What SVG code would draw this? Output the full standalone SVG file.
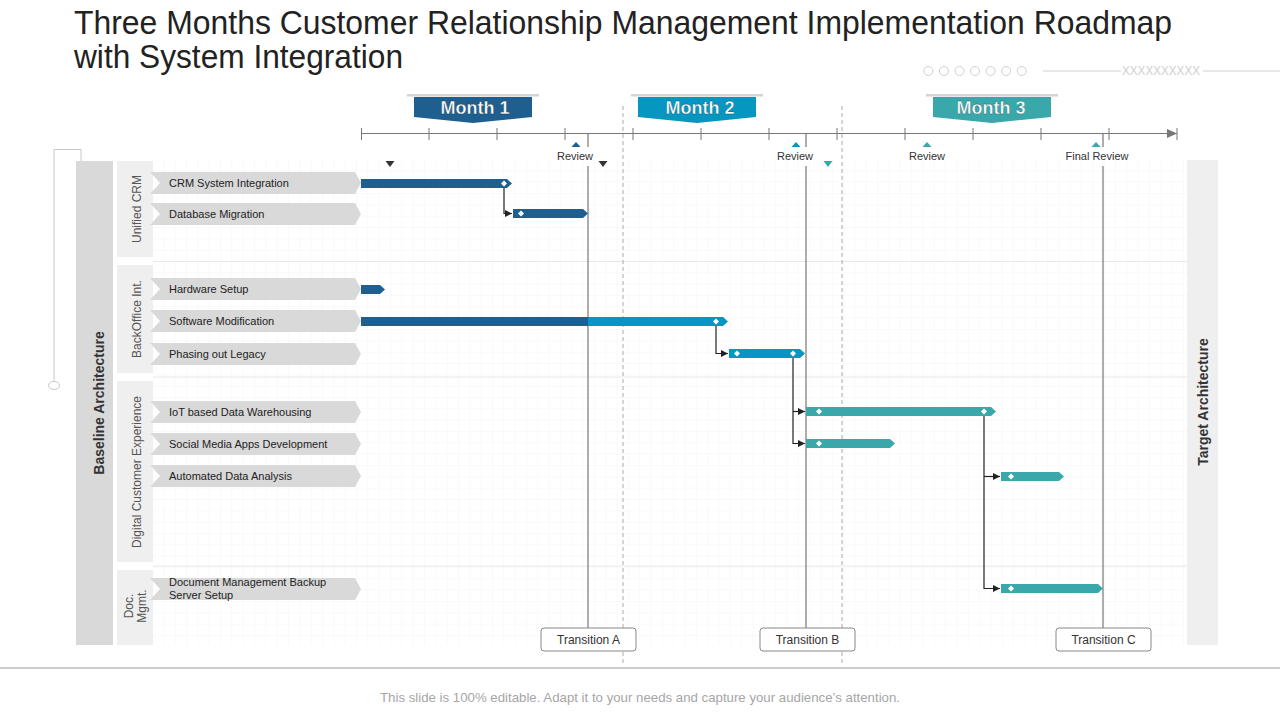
<svg xmlns="http://www.w3.org/2000/svg" width="1280" height="720" viewBox="0 0 1280 720">
<defs>
<style>
.title{font-family:"Liberation Sans",Arial,sans-serif;font-size:33px;fill:#222}
.month{font-family:"Liberation Sans",Arial,sans-serif;font-size:18px;font-weight:bold;fill:#fff}
.rev{font-family:"Liberation Sans",Arial,sans-serif;font-size:11px;fill:#333;text-anchor:middle}
.task{font-family:"Liberation Sans",Arial,sans-serif;font-size:11px;fill:#222}
.cat{font-family:"Liberation Sans",Arial,sans-serif;font-size:12px;fill:#555;text-anchor:middle}
.side{font-family:"Liberation Sans",Arial,sans-serif;font-size:14px;font-weight:bold;fill:#333;text-anchor:middle}
.trans{font-family:"Liberation Sans",Arial,sans-serif;font-size:12px;fill:#333;text-anchor:middle}
.lbl{fill:#d9d9d9}
.catbg{fill:#efefef}
.dia{fill:#fff}
.conn{fill:none;stroke:#222;stroke-width:1.2}
.tline{stroke:#777;stroke-width:1.2}
.dash{stroke:#aaa;stroke-width:1;stroke-dasharray:4 3}
.tbox{fill:#fff;stroke:#888;stroke-width:1}
.c1{fill:#1f5f8f}
.c2{fill:#0796bf}
.c3{fill:#3aa7ab}
</style>
<pattern id="grid" x="153" y="160" width="11.33" height="11.33" patternUnits="userSpaceOnUse">
<path d="M11.33 0V11.33M0 11.33H11.33" fill="none" stroke="#efefef" stroke-width="0.8"/>
</pattern>
<marker id="arr" markerWidth="8" markerHeight="8" refX="7" refY="4" orient="auto" markerUnits="userSpaceOnUse">
<path d="M0 0.5L7 4L0 7.5Z" fill="#222"/>
</marker>
<marker id="axarr" markerWidth="12" markerHeight="10" refX="10" refY="5" orient="auto" markerUnits="userSpaceOnUse">
<path d="M0 0.5L10 5L0 9.5Z" fill="#777"/>
</marker>
</defs>

<rect width="1280" height="720" fill="#fff"/>

<g id="title">
<text class="title" x="74" y="34" textLength="1098" lengthAdjust="spacingAndGlyphs">Three Months Customer Relationship Management Implementation Roadmap</text>
<text class="title" x="74" y="68" textLength="329" lengthAdjust="spacingAndGlyphs">with System Integration</text>
</g>

<g id="decoration" fill="none" stroke="#d0d0d0" stroke-width="1">
<circle cx="928.3" cy="71" r="4.5"/><circle cx="943.9" cy="71" r="4.5"/><circle cx="959.5" cy="71" r="4.5"/><circle cx="975" cy="71" r="4.5"/><circle cx="990.6" cy="71" r="4.5"/><circle cx="1006.2" cy="71" r="4.5"/><circle cx="1021.7" cy="71" r="4.5"/>
<line x1="1043" y1="71" x2="1121" y2="71"/>
<line x1="1203" y1="71" x2="1280" y2="71"/>
<text x="1161" y="75" stroke="none" fill="#cfcfcf" font-family="Liberation Sans, Arial, sans-serif" font-size="12" text-anchor="middle" textLength="78" lengthAdjust="spacingAndGlyphs">XXXXXXXXXX</text>
</g>

<g id="grid-area">
<rect x="153" y="160" width="1034" height="485" fill="url(#grid)"/>
<line x1="153" y1="261.5" x2="1187" y2="261.5" stroke="#e8e8e8"/>
<line x1="153" y1="377" x2="1187" y2="377" stroke="#e8e8e8"/>
<line x1="153" y1="566" x2="1187" y2="566" stroke="#e8e8e8"/>
</g>

<g id="left-bracket" fill="none" stroke="#c8c8c8" stroke-width="1">
<path d="M81 161V149.5H54V381"/>
<ellipse cx="54" cy="385.5" rx="5.5" ry="4"/>
</g>

<g id="baseline-architecture">
<rect x="76" y="161" width="37" height="484" fill="#d9d9d9"/>
<text class="side" transform="translate(104 403) rotate(-90)">Baseline Architecture</text>
</g>

<g id="target-architecture">
<rect x="1187" y="160" width="31" height="485" fill="#efefef"/>
<text class="side" transform="translate(1208 402) rotate(-90)">Target Architecture</text>
</g>

<g id="cat-unified-crm">
<rect class="catbg" x="117" y="161" width="36" height="96"/>
<text class="cat" transform="translate(141 209) rotate(-90)">Unified CRM</text>
</g>
<g id="cat-backoffice">
<rect class="catbg" x="117" y="265" width="36" height="108"/>
<text class="cat" transform="translate(141 319) rotate(-90)">BackOffice Int.</text>
</g>
<g id="cat-digital">
<rect class="catbg" x="117" y="381" width="36" height="181"/>
<text class="cat" transform="translate(141 472) rotate(-90)">Digital Customer Experience</text>
</g>
<g id="cat-doc">
<rect class="catbg" x="117" y="570" width="36" height="75"/>
<text class="cat" transform="translate(133 606) rotate(-90)">Doc.</text>
<text class="cat" transform="translate(146 606) rotate(-90)">Mgmt.</text>
</g>

<g id="dashed-dividers">
<line class="dash" x1="623" y1="106" x2="623" y2="666"/>
<line class="dash" x1="842" y1="106" x2="842" y2="666"/>
</g>

<g id="months">
<g id="month1">
<rect x="407" y="94" width="132" height="2.5" fill="#d4d4d4"/>
<polygon class="c1" points="414,97 532,97 532,117 473,123 414,117"/>
<text class="month" x="475" y="114" text-anchor="middle" stroke="#0e3350" stroke-width="0.3">Month 1</text>
</g>
<g id="month2">
<rect x="631" y="94" width="132" height="2.5" fill="#d4d4d4"/>
<polygon class="c2" points="638,97 756,97 756,117 697,123 638,117"/>
<text class="month" x="700" y="114" text-anchor="middle" stroke="#05506a" stroke-width="0.3">Month 2</text>
</g>
<g id="month3">
<rect x="926" y="94" width="132" height="2.5" fill="#d4d4d4"/>
<polygon class="c3" points="933,97 1051,97 1051,117 992,123 933,117"/>
<text class="month" x="991" y="114" text-anchor="middle" stroke="#1d5c5e" stroke-width="0.3">Month 3</text>
</g>
</g>

<g id="axis" stroke="#777" stroke-width="1.2">
<line x1="361" y1="133.5" x2="1177" y2="133.5" marker-end="url(#axarr)"/>
<path d="M361.5 128V140M429 128V140M497 128V140M565 128V140M633 128V140M701 128V140M769 128V140M837 128V140M905 128V140M973 128V140M1041 128V140M1109 128V140M1177 128V140" stroke-width="1"/>
</g>

<g id="reviews">
<polygon points="571.5,147 580.5,147 576,142" fill="#1f5f8f"/>
<text class="rev" x="575" y="160">Review</text>
<polygon points="791.5,147 800.5,147 796,142" fill="#0796bf"/>
<text class="rev" x="795" y="160">Review</text>
<polygon points="922.5,147 931.5,147 927,142" fill="#3aa7ab"/>
<text class="rev" x="927" y="160">Review</text>
<polygon points="1091.5,147 1100.5,147 1096,142" fill="#3aa7ab"/>
<text class="rev" x="1097" y="160">Final Review</text>
<polygon points="385.5,161 394.5,161 390,167" fill="#333"/>
<polygon points="598.5,161 607.5,161 603,167" fill="#333"/>
<polygon points="823.5,161 832.5,161 828,167" fill="#3aa7ab"/>
</g>

<g id="transition-lines">
<path class="tline" d="M588 134V147M588 166V628"/>
<path class="tline" d="M806 134V147M806 166V628"/>
<path class="tline" d="M1103 134V147M1103 166V628"/>
</g>

<g id="task-labels">
<g id="label-crm"><polygon class="lbl" points="150,172 355,172 361,183 355,194 150,194 160,183"/><text class="task" x="169" y="187">CRM  System Integration</text></g>
<g id="label-db"><polygon class="lbl" points="150,203 355,203 361,214 355,225 150,225 160,214"/><text class="task" x="169" y="218">Database Migration</text></g>
<g id="label-hw"><polygon class="lbl" points="150,278 355,278 361,289 355,300 150,300 160,289"/><text class="task" x="169" y="293">Hardware Setup</text></g>
<g id="label-sw"><polygon class="lbl" points="150,310 355,310 361,321 355,332 150,332 160,321"/><text class="task" x="169" y="325">Software Modification</text></g>
<g id="label-legacy"><polygon class="lbl" points="150,343 355,343 361,354 355,365 150,365 160,354"/><text class="task" x="169" y="358">Phasing out Legacy</text></g>
<g id="label-iot"><polygon class="lbl" points="150,401 355,401 361,412 355,423 150,423 160,412"/><text class="task" x="169" y="416">IoT based Data Warehousing</text></g>
<g id="label-social"><polygon class="lbl" points="150,433 355,433 361,444 355,455 150,455 160,444"/><text class="task" x="169" y="448">Social Media  Apps Development</text></g>
<g id="label-auto"><polygon class="lbl" points="150,465 355,465 361,476 355,487 150,487 160,476"/><text class="task" x="169" y="480">Automated Data  Analysis</text></g>
<g id="label-doc"><polygon class="lbl" points="150,578 355,578 361,589 355,600 150,600 160,589"/><text class="task" x="169" y="586">Document  Management  Backup</text><text class="task" x="169" y="599">Server Setup</text></g>
</g>

<g id="connectors">
<path class="conn" d="M504 188V213.5H512" marker-end="url(#arr)"/>
<path class="conn" d="M716 326V353.5H728" marker-end="url(#arr)"/>
<path class="conn" d="M793 358V443.5H805" marker-end="url(#arr)"/>
<path class="conn" d="M793 411.5H805" marker-end="url(#arr)"/>
<path class="conn" d="M984 416V588.5H1000" marker-end="url(#arr)"/>
<path class="conn" d="M984 476.5H1000" marker-end="url(#arr)"/>
</g>

<g id="bars">
<g id="bar-crm"><polygon class="c1" points="361,179 507,179 512,183.5 507,188 361,188"/><path class="dia" d="M504 180.5L507 183.5L504 186.5L501 183.5Z"/></g>
<g id="bar-db"><polygon class="c1" points="513,209 583,209 588,213.5 583,218 513,218"/><path class="dia" d="M521 210.5L524 213.5L521 216.5L518 213.5Z"/></g>
<g id="bar-hw"><polygon class="c1" points="361,285 380,285 385,289.5 380,294 361,294"/></g>
<g id="bar-sw"><rect class="c1" x="361" y="317" width="227" height="9"/><polygon class="c2" points="588,317 723,317 728,321.5 723,326 588,326"/><path class="dia" d="M716 318.5L719 321.5L716 324.5L713 321.5Z"/></g>
<g id="bar-legacy"><polygon class="c2" points="729,349 800,349 805,353.5 800,358 729,358"/><path class="dia" d="M737 350.5L740 353.5L737 356.5L734 353.5Z"/><path class="dia" d="M793 350.5L796 353.5L793 356.5L790 353.5Z"/></g>
<g id="bar-iot"><polygon class="c3" points="806,407 991,407 996,411.5 991,416 806,416"/><path class="dia" d="M819 408.5L822 411.5L819 414.5L816 411.5Z"/><path class="dia" d="M984 408.5L987 411.5L984 414.5L981 411.5Z"/></g>
<g id="bar-social"><polygon class="c3" points="806,439 890,439 895,443.5 890,448 806,448"/><path class="dia" d="M819 440.5L822 443.5L819 446.5L816 443.5Z"/></g>
<g id="bar-auto"><polygon class="c3" points="1001,472 1059,472 1064,476.5 1059,481 1001,481"/><path class="dia" d="M1011 473.5L1014 476.5L1011 479.5L1008 476.5Z"/></g>
<g id="bar-doc"><polygon class="c3" points="1001,584 1098,584 1103,588.5 1098,593 1001,593"/><path class="dia" d="M1011 585.5L1014 588.5L1011 591.5L1008 588.5Z"/></g>
</g>

<g id="transitions">
<g id="transition-a"><rect class="tbox" x="541" y="628" width="95" height="23" rx="3"/><text class="trans" x="588.5" y="644">Transition A</text></g>
<g id="transition-b"><rect class="tbox" x="760" y="628" width="95" height="23" rx="3"/><text class="trans" x="807.5" y="644">Transition B</text></g>
<g id="transition-c"><rect class="tbox" x="1056" y="628" width="95" height="23" rx="3"/><text class="trans" x="1103.5" y="644">Transition C</text></g>
</g>

<g id="footer">
<line x1="0" y1="668" x2="1280" y2="668" stroke="#999" stroke-width="1"/>
<text x="640" y="702" text-anchor="middle" font-family="Liberation Sans, Arial, sans-serif" font-size="13" fill="#a6a6a6" textLength="520" lengthAdjust="spacingAndGlyphs">This slide is 100% editable. Adapt it to your needs and capture your audience’s attention.</text>
</g>
</svg>
